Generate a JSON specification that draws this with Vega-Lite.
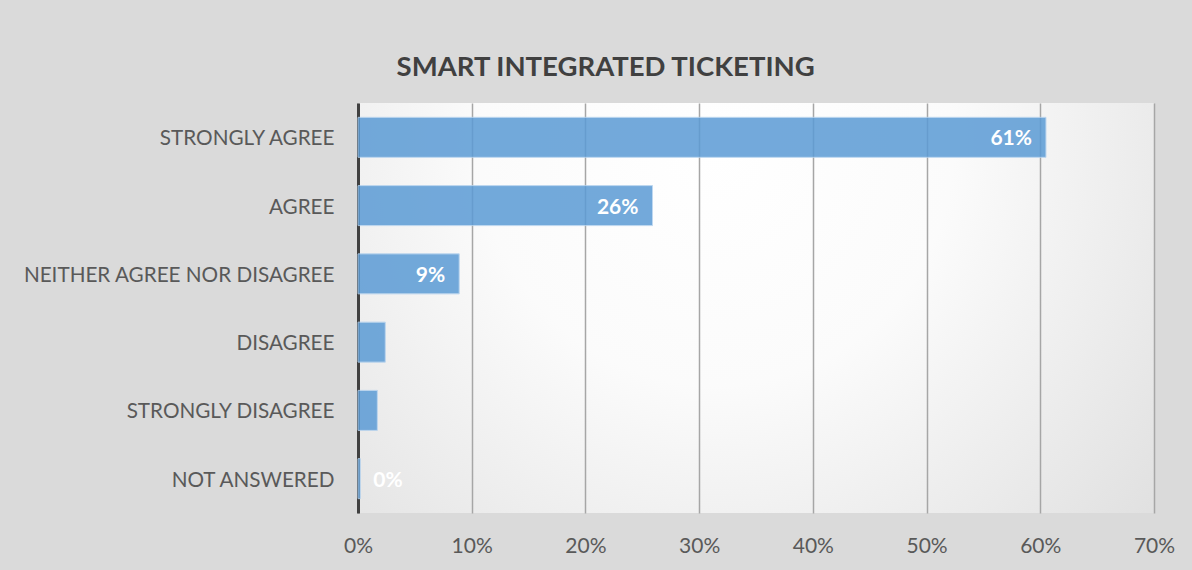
{
  "$schema": "https://vega.github.io/schema/vega-lite/v6.json",
  "width": 796,
  "height": 410,
  "autosize": {"type": "none"},
  "padding": {"left": 358, "top": 103, "right": 38, "bottom": 57},
  "background": "#dadada",
  "title": {
    "text": "SMART INTEGRATED TICKETING",
    "font": "Lato",
    "fontSize": 27.5,
    "fontWeight": "bold",
    "color": "#404040",
    "anchor": "middle",
    "frame": "bounds",
    "offset": 22,
    "dx": 7
  },
  "config": {
    "view": {
      "stroke": null,
      "fill": {
        "gradient": "radial",
        "x1": 0.45, "y1": 0.3, "r1": 0,
        "x2": 0.45, "y2": 0.3, "r2": 0.85,
        "stops": [
          {"offset": 0, "color": "#ffffff"},
          {"offset": 0.35, "color": "#fbfbfb"},
          {"offset": 1, "color": "#d8d8d8"}
        ]
      }
    }
  },
  "data": {
    "values": [
      {"response": "STRONGLY AGREE", "share": 60.5, "label": "61%"},
      {"response": "AGREE", "share": 25.9, "label": "26%"},
      {"response": "NEITHER AGREE NOR DISAGREE", "share": 8.9, "label": "9%"},
      {"response": "DISAGREE", "share": 2.4, "label": ""},
      {"response": "STRONGLY DISAGREE", "share": 1.7, "label": ""},
      {"response": "NOT ANSWERED", "share": 0.2, "label": "0%"}
    ]
  },
  "encoding": {
    "y": {
      "field": "response",
      "type": "nominal",
      "sort": null,
      "scale": {"paddingInner": 0.414, "paddingOuter": 0.21},
      "axis": {
        "title": null,
        "labelFont": "Lato",
        "labelFontSize": 20.7,
        "labelColor": "#595959",
        "labelPadding": 24,
        "labelLimit": 500,
        "labelOffset": 2,
        "ticks": false,
        "domainColor": "#404040",
        "domainWidth": 3,
        "grid": false
      }
    },
    "x": {
      "field": "share",
      "type": "quantitative",
      "scale": {"domain": [0, 70], "nice": false},
      "axis": {
        "title": null,
        "values": [0, 10, 20, 30, 40, 50, 60, 70],
        "labelExpr": "datum.value + '%'",
        "labelFont": "Lato",
        "labelFontSize": 21,
        "labelColor": "#595959",
        "labelPadding": 22,
        "labelFlush": false,
        "labelOverlap": false,
        "ticks": false,
        "domain": false,
        "grid": true,
        "gridColor": "#a6a6a6",
        "gridWidth": 1.5
      }
    }
  },
  "layer": [
    {
      "mark": {"type": "bar", "color": "#5b9bd5", "opacity": 0.85, "stroke": "#b4d2ee", "strokeWidth": 1}
    },
    {
      "transform": [{"filter": "datum.share >= 5"}],
      "mark": {"type": "text", "align": "right", "baseline": "middle", "dx": -14, "dy": 2, "font": "Lato", "fontWeight": "bold", "fontSize": 21, "color": "#ffffff"},
      "encoding": {"text": {"field": "label"}}
    },
    {
      "transform": [{"filter": "datum.share < 1"}],
      "mark": {"type": "text", "align": "left", "baseline": "middle", "dx": 13, "dy": 2, "font": "Lato", "fontWeight": "bold", "fontSize": 21, "color": "#ffffff"},
      "encoding": {"text": {"field": "label"}}
    }
  ]
}
